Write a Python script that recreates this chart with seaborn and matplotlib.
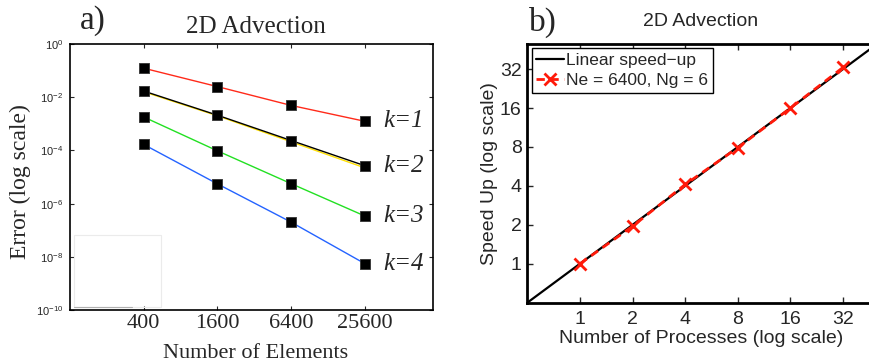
import numpy as np
import pandas as pd
import matplotlib
matplotlib.use("Agg")
import matplotlib.pyplot as plt
import seaborn as sns
from matplotlib.patches import Rectangle
from matplotlib.ticker import FixedLocator, FixedFormatter, NullLocator

# ---------------- data ----------------
elements = [400, 1600, 6400, 25600]
err_k1 = [1.23e-1, 2.5e-2, 4.9e-3, 1.24e-3]
err_k2 = [1.7e-2, 2.1e-3, 2.35e-4, 2.65e-5]
err_k2_ref = [1.6e-2, 2.0e-3, 2.1e-4, 2.2e-5]
err_k3 = [1.8e-3, 9.6e-5, 5.6e-6, 3.4e-7]
err_k4 = [1.67e-4, 5.5e-6, 2.0e-7, 5.5e-9]
k_labels = ["k=1", "k=2", "k=3", "k=4"]

procs = [1, 2, 4, 8, 16, 32]
speedup = [1.0, 1.95, 4.1, 7.9, 16.0, 33.0]
linear_procs = [0.5, 64]
proc_ticks = [1, 2, 4, 8, 16, 32]

x_ticks_a = [400, 1600, 6400, 25600]
y_ticks_a = [1e0, 1e-2, 1e-4, 1e-6, 1e-8, 1e-10]
y_ticklabels_a = [r"$10^{0}$", r"$10^{-2}$", r"$10^{-4}$", r"$10^{-6}$", r"$10^{-8}$", r"$10^{-10}$"]

# ---------------- style ----------------
sns.set_style("ticks")
plt.rcParams["font.family"] = ["Liberation Sans", "DejaVu Sans"]
plt.rcParams["mathtext.fontset"] = "custom"
plt.rcParams["mathtext.rm"] = "Liberation Sans"
plt.rcParams["mathtext.it"] = "Liberation Sans:italic"
plt.rcParams["mathtext.default"] = "regular"

SERIF = ["Liberation Serif", "DejaVu Serif"]
SANS = ["Liberation Sans", "DejaVu Sans"]

W, H = 869, 364
fig = plt.figure(figsize=(W / 100, H / 100), dpi=100)

def fx(px):
    return px / W

def fy(py):
    return 1 - py / H

# ---------------- panel a ----------------
ax1 = fig.add_axes([fx(70), fy(310), fx(433) - fx(70), fy(44) - fy(310)])

series = [
    ("k2ref", err_k2_ref, "#ffe000"),
    ("k1", err_k1, "#ff2a1a"),
    ("k2", err_k2, "#000000"),
    ("k3", err_k3, "#22e022"),
    ("k4", err_k4, "#2463ff"),
]
df_a = pd.concat(
    [pd.DataFrame({"elements": elements, "error": vals, "series": name}) for name, vals, _ in series],
    ignore_index=True,
)
palette = {name: c for name, _, c in series}
sns.lineplot(data=df_a, x="elements", y="error", hue="series", palette=palette,
             hue_order=[s[0] for s in series], linewidth=1.0, legend=False, ax=ax1,
             sort=False)
df_pts = df_a[df_a["series"] != "k2ref"]
sns.scatterplot(data=df_pts, x="elements", y="error", marker="s", s=48, color="black",
                edgecolor="#333333", linewidth=0.6, legend=False, ax=ax1, zorder=5)

ax1.set_xscale("log")
ax1.set_yscale("log")
ax1.set_xlim(100, 92000)
ax1.set_ylim(1e-10, 1)
ax1.xaxis.set_major_locator(FixedLocator(x_ticks_a))
ax1.xaxis.set_major_formatter(FixedFormatter([str(v) for v in x_ticks_a]))
ax1.xaxis.set_minor_locator(NullLocator())
ax1.yaxis.set_major_locator(FixedLocator(y_ticks_a))
ax1.yaxis.set_major_formatter(FixedFormatter(y_ticklabels_a))
ax1.yaxis.set_minor_locator(NullLocator())
ax1.tick_params(axis="both", which="major", direction="in", length=3, width=0.8,
                top=True, right=True)
ax1.tick_params(axis="x", labelsize=16, pad=3)
ax1.tick_params(axis="y", labelsize=8, pad=5)
for lab in ax1.get_xticklabels():
    lab.set_family(SERIF)
for sp in ax1.spines.values():
    sp.set_linewidth(1.2)
    sp.set_color("black")
ax1.set_xlabel("")
ax1.set_ylabel("")

# faint empty legend box remnant
ax1.add_patch(Rectangle((0.012, 0.012), 0.24, 0.27, transform=ax1.transAxes,
                        fill=False, edgecolor="#ebebeb", linewidth=0.8, zorder=1))
ax1.plot([0.012, 0.17], [0.012, 0.012], transform=ax1.transAxes, color="#b0b0b0",
         linewidth=0.8, zorder=1)

for lbl, vals in zip(k_labels, [err_k1, err_k2, err_k3, err_k4]):
    ax1.annotate(lbl, xy=(elements[-1], vals[-1]), xytext=(13, 0),
                 textcoords="offset points", ha="left", va="center",
                 fontsize=18, style="italic", family=SERIF)

fig.text(fx(80), fy(21), "a)", fontsize=24, family=SERIF, ha="left", va="center")
fig.text(fx(256), fy(27), "2D Advection", fontsize=18, family=SERIF, ha="center", va="center")
fig.text(fx(20), fy(182), "Error (log scale)", fontsize=17, family=SERIF, rotation=90,
         ha="center", va="center")
fig.text(fx(256), fy(358), "Number of Elements", fontsize=16, family=SERIF,
         ha="center", va="baseline")

# ---------------- panel b ----------------
ax2 = fig.add_axes([fx(527.3), fy(302.7), fx(877) - fx(527.3), fy(44) - fy(302.7)])
sns.lineplot(x=linear_procs, y=linear_procs, color="black", linewidth=1.6,
             label="Linear speed\u2212up", ax=ax2)
sns.lineplot(x=procs, y=speedup, color="#ff1a0a", linewidth=2.0, linestyle=(0, (3, 2)),
             marker="x", markersize=8, markeredgewidth=2.0, markeredgecolor="#ff1a0a",
             label="Ne = 6400, Ng = 6", ax=ax2)
ax2.set_xscale("log")
ax2.set_yscale("log")
ax2.set_xlim(0.5, 50)
ax2.set_ylim(0.5, 50)
for axis in (ax2.xaxis, ax2.yaxis):
    axis.set_major_locator(FixedLocator(proc_ticks))
    axis.set_major_formatter(FixedFormatter([str(v) for v in proc_ticks]))
    axis.set_minor_locator(NullLocator())
ax2.tick_params(axis="both", which="major", direction="in", length=4, width=1.0,
                top=True, right=True, labelsize=14)
ax2.tick_params(axis="x", pad=6)
ax2.tick_params(axis="y", pad=4)
for sp in ax2.spines.values():
    sp.set_linewidth(2.0)
    sp.set_color("black")
ax2.set_xlabel("")
ax2.set_ylabel("")
leg = ax2.legend(loc="upper left", fontsize=12.5, frameon=True, fancybox=False,
                 edgecolor="black", framealpha=1, handlelength=1.6, handletextpad=0.15,
                 borderpad=0.25, borderaxespad=0.25, labelspacing=0.3)
leg.get_frame().set_linewidth(1.0)

fig.text(fx(529), fy(22), "b)", fontsize=24, family=SERIF, ha="left", va="center")
fig.text(fx(701), fy(22), "2D Advection", fontsize=14, family=SANS, ha="center", va="center")
fig.text(fx(489), fy(174), "Speed Up (log scale)", fontsize=14, family=SANS, rotation=90,
         ha="center", va="center")
fig.text(fx(701), fy(343), "Number of Processes (log scale)", fontsize=14, family=SANS,
         ha="center", va="baseline")

fig.savefig("out.png", dpi=100)
